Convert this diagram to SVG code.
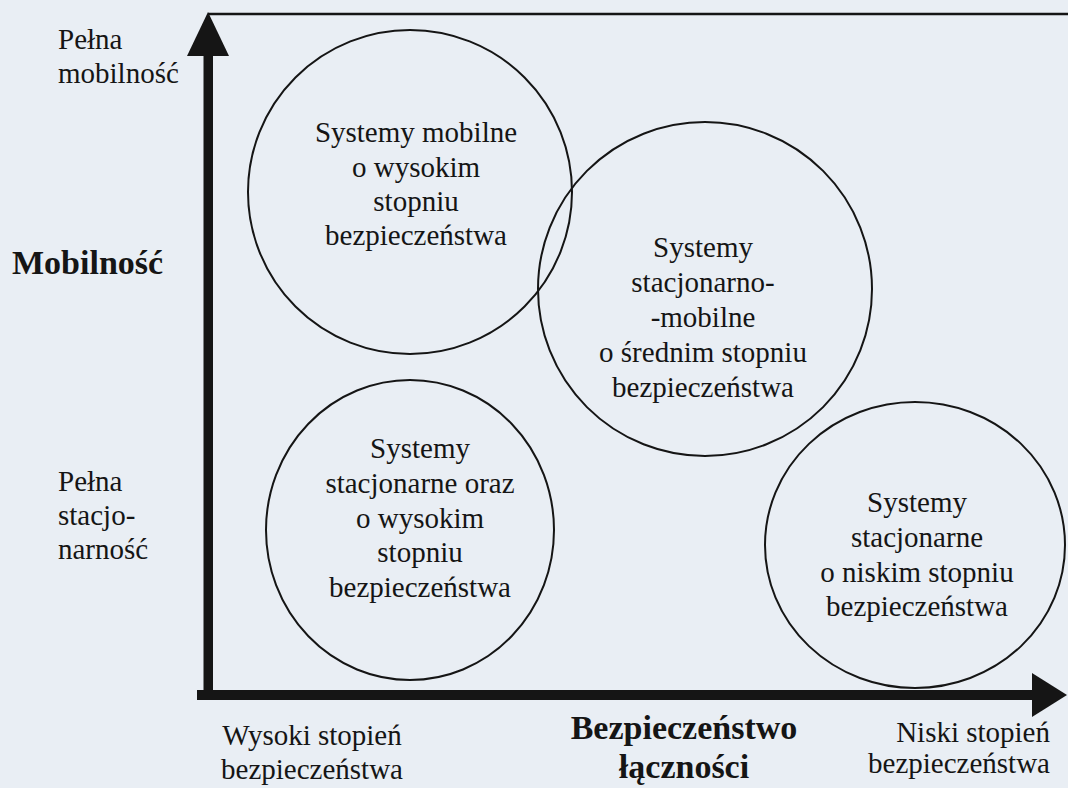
<svg xmlns="http://www.w3.org/2000/svg" width="1068" height="788" viewBox="0 0 1068 788">
  <style>
    .t { font-family: "Liberation Serif", "Times New Roman", serif; font-size: 29px; fill: #151515; }
    .lbl { font-family: "Liberation Serif", "Times New Roman", serif; font-size: 29px; fill: #151515; }
    .big { font-family: "Liberation Serif", "Times New Roman", serif; font-size: 34px; font-weight: bold; fill: #151515; }
    .mid { text-anchor: middle; }
    .end { text-anchor: end; }
    .ring { fill: none; stroke: #151515; stroke-width: 2; }
    .axis { fill: #151515; }
  </style>

  <!-- page -->
  <rect x="0" y="0" width="1068" height="788" fill="#e9eef4"/>

  <!-- axes and top rule -->
  <g id="connectors">
    <line x1="208" y1="14" x2="1068" y2="14" stroke="#151515" stroke-width="2.5"/>
    <rect class="axis" x="203.5" y="50" width="9.5" height="650"/>
    <polygon class="axis" points="208,12 187,56 229,56"/>
    <rect class="axis" x="197" y="690" width="840" height="10"/>
    <polygon class="axis" points="1067,695 1032,673 1032,717"/>
  </g>

  <!-- axis labels -->
  <g id="y-axis-labels">
    <text class="lbl" x="58" y="49">Pełna</text>
    <text class="lbl" x="58" y="83">mobilność</text>
    <text class="big" x="12" y="274">Mobilność</text>
    <text class="lbl" x="58" y="491">Pełna</text>
    <text class="lbl" x="58" y="525">stacjo-</text>
    <text class="lbl" x="58" y="559">narność</text>
  </g>
  <g id="x-axis-labels">
    <text class="t mid" x="312" y="745">Wysoki stopień</text>
    <text class="t mid" x="312" y="779">bezpieczeństwa</text>
    <text class="big mid" x="684" y="739">Bezpieczeństwo</text>
    <text class="big mid" x="684" y="778">łączności</text>
    <text class="t end" x="1050" y="742">Niski stopień</text>
    <text class="t end" x="1050" y="773">bezpieczeństwa</text>
  </g>

  <!-- system classes -->
  <g id="mobile-high">
    <circle class="ring" cx="410" cy="192" r="162"/>
    <text class="t mid" x="416" y="142">Systemy mobilne</text>
    <text class="t mid" x="416" y="177">o wysokim</text>
    <text class="t mid" x="416" y="211">stopniu</text>
    <text class="t mid" x="416" y="245">bezpieczeństwa</text>
  </g>

  <g id="mixed-medium">
    <circle class="ring" cx="705" cy="289" r="167"/>
    <text class="t mid" x="703" y="257">Systemy</text>
    <text class="t mid" x="703" y="292">stacjonarno-</text>
    <text class="t mid" x="703" y="327">-mobilne</text>
    <text class="t mid" x="703" y="362">o średnim stopniu</text>
    <text class="t mid" x="703" y="397">bezpieczeństwa</text>
  </g>

  <g id="stationary-high">
    <ellipse class="ring" cx="410" cy="530" rx="144" ry="150"/>
    <text class="t mid" x="420" y="458">Systemy</text>
    <text class="t mid" x="420" y="493">stacjonarne oraz</text>
    <text class="t mid" x="420" y="528">o wysokim</text>
    <text class="t mid" x="420" y="562">stopniu</text>
    <text class="t mid" x="420" y="597">bezpieczeństwa</text>
  </g>

  <g id="stationary-low">
    <ellipse class="ring" cx="915" cy="545" rx="150" ry="143"/>
    <text class="t mid" x="917" y="512">Systemy</text>
    <text class="t mid" x="917" y="547">stacjonarne</text>
    <text class="t mid" x="917" y="582">o niskim stopniu</text>
    <text class="t mid" x="917" y="616">bezpieczeństwa</text>
  </g>
</svg>
